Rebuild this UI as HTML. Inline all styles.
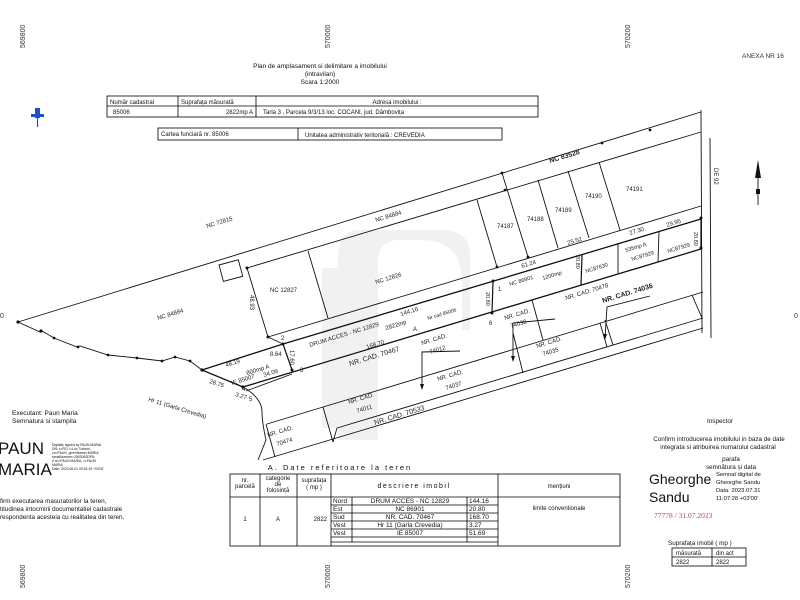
<!DOCTYPE html>
<html><head><meta charset="utf-8"><style>
html,body{margin:0;padding:0;background:#fff}
svg{display:block;font-family:"Liberation Sans",sans-serif}
</style></head><body>
<svg width="800" height="600" viewBox="0 0 800 600" xmlns="http://www.w3.org/2000/svg">
<rect width="800" height="600" fill="#fff"/>
<!-- watermark -->
<g fill="#f1f1f1">
<rect x="322" y="268" width="38" height="160"/>
<path d="M338 258 L338 440 L378 440 L378 262 Q378 240 400 240 L420 240 Q462 240 462 282 L462 330 L470 330 L470 255 Q470 230 440 230 L360 230 Q338 230 338 258Z"/>
</g>
<!-- grid labels -->
<g font-size="7" fill="#333">
<text transform="translate(25,48) rotate(-90)">569800</text>
<text transform="translate(330,48) rotate(-90)">570000</text>
<text transform="translate(630,48) rotate(-90)">570200</text>
<text transform="translate(25,588) rotate(-90)">569800</text>
<text transform="translate(330,588) rotate(-90)">570000</text>
<text transform="translate(630,588) rotate(-90)">570200</text>
<text x="0" y="318">0</text><text x="794" y="318">0</text>
<text x="742" y="58" font-size="6.5">ANEXA NR 16</text>
</g>
<!-- header -->
<g font-size="6.5" fill="#111" text-anchor="middle">
<text x="320" y="68">Plan de amplasament si delimitare a imobilului</text>
<text x="320" y="76">(intravilan)</text>
<text x="320" y="84">Scara 1:2000</text>
</g>
<g stroke="#000" stroke-width="0.8" fill="none">
<rect x="107" y="96" width="431" height="21"/>
<line x1="107" y1="106" x2="538" y2="106"/>
<line x1="178" y1="96" x2="178" y2="117"/><line x1="256" y1="96" x2="256" y2="117"/>
<rect x="158" y="128" width="344" height="12"/>
<line x1="298" y1="128" x2="298" y2="140"/>
</g>
<g font-size="6" fill="#111">
<text x="110" y="104">Număr cadastral</text><text x="181" y="104">Suprafața măsurată</text>
<text x="397" y="104" text-anchor="middle">Adresa imobilului :</text>
<text x="113" y="114">85006</text><text x="253" y="114" text-anchor="end">2822mp A</text>
<text x="263" y="114">Tarla  3 , Parcela 9/3/13 loc. COCANI, jud. Dâmbovița</text>
<text x="161" y="136">Cartea funciară  nr.  85006</text>
<text x="305" y="137">Unitatea administrativ teritorială :  CREVEDIA</text>
</g>
<!-- pin -->
<g><rect x="35" y="108" width="5" height="10" fill="#1a4fd0"/><rect x="31" y="114" width="13" height="3" fill="#1a4fd0"/><line x1="37.5" y1="117" x2="37.5" y2="127" stroke="#1a4fd0" stroke-width="1.2"/></g>
<!-- plot lines -->
<g stroke="#111" stroke-width="0.9" fill="none">
<line x1="18" y1="322" x2="701" y2="112"/>
<line x1="247" y1="268" x2="701" y2="132"/>
<line x1="268" y1="337" x2="701" y2="206"/>
<line x1="283" y1="344" x2="701" y2="219" stroke-width="1.3"/>
<line x1="243" y1="387" x2="701" y2="249" stroke-width="1.3"/>
<line x1="246" y1="391" x2="292" y2="374"/>
<line x1="202" y1="370" x2="283" y2="344" stroke-width="1.3"/>
<line x1="202" y1="370" x2="243" y2="387" stroke-width="1.3"/>
<line x1="247" y1="268" x2="268" y2="337"/>
<line x1="268" y1="337" x2="283" y2="344"/>
<line x1="283" y1="344" x2="292" y2="370" stroke-width="1.2"/>
<line x1="308" y1="251" x2="328" y2="318"/>
<rect x="0" y="0" width="20" height="17" transform="translate(219,265) rotate(-15)"/>
<polyline points="18,322 40,332 42,331 54,338 77,347 80,346 108,355 137,358 162,361 175,357 190,361 202,370"/>
<path d="M243,387 Q262,398 262,412 Q262,422 266,440 L262,450 L258,460"/>
<line x1="267" y1="424" x2="703" y2="292"/>
<line x1="337" y1="428" x2="703" y2="318"/>
<line x1="263" y1="460" x2="703" y2="328"/>
<line x1="323" y1="407" x2="333" y2="442"/><line x1="333" y1="442" x2="337" y2="428"/>
<line x1="532" y1="300" x2="543" y2="340"/><line x1="513" y1="333" x2="523" y2="373"/>
<line x1="600" y1="323" x2="607" y2="347"/><line x1="605" y1="320" x2="613" y2="345"/>
<line x1="692" y1="295" x2="702" y2="318"/>
<line x1="266" y1="424" x2="275" y2="457"/>
<line x1="701" y1="110" x2="702" y2="333"/>
<line x1="710" y1="138" x2="711" y2="338"/>
<line x1="477" y1="200" x2="497" y2="267"/><line x1="502" y1="173" x2="528" y2="257"/>
<line x1="538" y1="180" x2="558" y2="248"/><line x1="568" y1="171" x2="589" y2="238"/>
<line x1="599" y1="162" x2="620" y2="230"/>
<line x1="493" y1="281" x2="492" y2="313" stroke-width="1.2"/>
<line x1="582" y1="255" x2="581" y2="285" stroke-width="1.2"/>
<line x1="618" y1="243" x2="618" y2="273"/>
<line x1="659" y1="231" x2="658" y2="262"/>
<line x1="701" y1="218" x2="701" y2="248" stroke-width="1.2"/>
<polyline points="460,351 422,352 422,388"/><polyline points="555,319 513,323 513,360"/><polyline points="650,296 607,307 605,338"/>
<line x1="758" y1="162" x2="758" y2="205"/>
</g>
<g fill="#111">
<polygon points="758,160 755,178 761,178"/><rect x="756" y="189" width="4" height="5"/>
<polygon points="422,390 420,384 424,384"/><polygon points="513,362 511,356 515,356"/><polygon points="605,340 603,334 607,334"/>
<circle cx="18" cy="322" r="1.6"/><circle cx="41" cy="331" r="1.6"/><circle cx="54" cy="338" r="1.4"/><circle cx="78" cy="347" r="1.4"/><circle cx="108" cy="355" r="1.4"/><circle cx="137" cy="358" r="1.4"/><circle cx="162" cy="361" r="1.4"/><circle cx="175" cy="357" r="1.4"/><circle cx="190" cy="361" r="1.4"/><circle cx="202" cy="370" r="1.6"/><circle cx="243" cy="387" r="1.6"/><circle cx="247" cy="268" r="1.5"/><circle cx="268" cy="337" r="1.5"/><circle cx="283" cy="344" r="1.5"/><circle cx="292" cy="370" r="1.5"/><circle cx="493" cy="281" r="1.5"/><circle cx="492" cy="313" r="1.5"/><circle cx="701" cy="218" r="1.5"/><circle cx="701" cy="248" r="1.5"/><circle cx="502" cy="173" r="1.4"/><circle cx="602" cy="143" r="1.4"/><circle cx="650" cy="130" r="1.4"/><circle cx="505" cy="190" r="1.4"/><circle cx="528" cy="257" r="1.4"/><circle cx="497" cy="267" r="1.4"/>
</g>
<!-- plot labels -->
<g font-size="6" fill="#222">
<text transform="translate(207,228) rotate(-17)">NC 72815</text>
<text transform="translate(376,222) rotate(-17)">NC 84884</text>
<text transform="translate(158,320) rotate(-17)">NC 84884</text>
<text x="270" y="292">NC 12827</text>
<text transform="translate(376,284) rotate(-17)">NC 12826</text>
<text transform="translate(310,347) rotate(-17)">DRUM ACCES - NC 12829</text>
<text transform="translate(401,316) rotate(-17)">144.16</text>
<text transform="translate(386,330) rotate(-17)">2822mp</text>
<text x="413" y="331">A</text>
<text transform="translate(428,320) rotate(-17)" font-size="5">Nr cad 85006</text>
<text transform="translate(367,349) rotate(-17)">168.70</text>
<text transform="translate(350,366) rotate(-17)" font-size="7">NR.  CAD.  70467</text>
<text transform="translate(422,345) rotate(-17)">NR.  CAD.</text><text transform="translate(430,354) rotate(-17)">74012</text>
<text transform="translate(438,381) rotate(-17)">NR.  CAD.</text><text transform="translate(446,390) rotate(-17)">74037</text>
<text transform="translate(349,404) rotate(-17)">NR.  CAD.</text><text transform="translate(357,413) rotate(-17)">74011</text>
<text transform="translate(375,425) rotate(-17)" font-size="7">NR.  CAD.  70533</text>
<text transform="translate(268,437) rotate(-17)">NR.  CAD.</text><text transform="translate(277,446) rotate(-17)">70474</text>
<text transform="translate(505,320) rotate(-17)">NR.  CAD.</text><text transform="translate(511,328) rotate(-17)">74038</text>
<text transform="translate(537,348) rotate(-17)">NR.  CAD.</text><text transform="translate(543,356) rotate(-17)">74035</text>
<text transform="translate(566,300) rotate(-17)">NR.  CAD.  70478</text>
<text transform="translate(603,303) rotate(-17)" font-weight="bold" font-size="7">NR.  CAD.  74036</text>
<text transform="translate(510,286) rotate(-17)" font-size="5.5">NC 86901</text>
<text transform="translate(543,280) rotate(-17)" font-size="5.5">1200mp</text>
<text transform="translate(522,268) rotate(-17)">61.24</text>
<text x="498" y="291">1</text><text x="489" y="325">6</text>
<text transform="translate(486,292) rotate(90)" font-size="5.5">20.80</text>
<text transform="translate(576,255) rotate(90)" font-size="5.5">20.80</text>
<text transform="translate(568,245) rotate(-17)">25.52</text>
<text transform="translate(586,273) rotate(-17)" font-size="5.5">NC87630</text>
<text transform="translate(630,235) rotate(-17)">27.30</text>
<text transform="translate(626,252) rotate(-17)" font-size="5.5">535mp A</text>
<text transform="translate(632,261) rotate(-17)" font-size="5.5">NC87929</text>
<text transform="translate(667,227) rotate(-17)">29.95</text>
<text transform="translate(668,253) rotate(-17)" font-size="5.5">NC87929</text>
<text transform="translate(694,232) rotate(90)" font-size="5.5">20.80</text>
<text x="497" y="228">74187</text><text x="527" y="221">74188</text><text x="555" y="212">74189</text><text x="585" y="198">74190</text><text x="626" y="191">74191</text>
<text transform="translate(550,163) rotate(-17)" font-weight="bold" font-size="7">NC 83528</text>
<text transform="translate(714,168) rotate(90)">DE 92</text>
<text x="281" y="340">2</text><text x="300" y="372">3</text>
<text x="270" y="356">8.64</text>
<text transform="translate(290,350) rotate(90)">17.60</text>
<text transform="translate(250,295) rotate(90)">48.93</text>
<text transform="translate(226,367) rotate(-17)">48.19</text>
<text transform="translate(247,375) rotate(-17)">800mp A</text>
<text transform="translate(232,385) rotate(-17)">IE 85007</text>
<text transform="translate(264,377) rotate(-17)">34.09</text>
<text transform="translate(209,383) rotate(17)">28.75</text>
<text x="242" y="391">4</text>
<text transform="translate(235,396) rotate(17)">3.27</text>
<text x="249" y="401">5</text>
<text transform="translate(148,401) rotate(17)">Hr 11 (Garla Crevedia)</text>
</g>
<!-- left bottom -->
<g fill="#111">
<text x="12" y="415" font-size="6.5">Executant: Paun Maria</text>
<text x="12" y="423" font-size="6.5">Semnatura si stampila</text>
<text x="-2" y="454" font-size="17">PAUN</text>
<text x="-2" y="475" font-size="17">MARIA</text>
<g font-size="3.4"><text x="52" y="446">Digitally signed by PAUN MARIA</text><text x="52" y="450">DN: c=RO, l=Loc Turbuni,</text><text x="52" y="454">cn=PAUN, givenName=MARIA,</text><text x="52" y="458">serialNumber=2803062DPN</text><text x="52" y="462">4 cn=PAUN MARIA, c=PAUN</text><text x="52" y="466">MARIA</text><text x="52" y="470">Date: 2023.06.01 09:16:15 +03'00'</text></g>
<text x="0" y="503" font-size="6.3">firm executarea masuratorilor la teren,</text>
<text x="0" y="511" font-size="6.3">titudinea intocmirii documentatiei cadastrale</text>
<text x="0" y="519" font-size="6.3">respondenta acesteia cu realitatea din teren.</text>
</g>
<!-- table A -->
<text x="340" y="470" font-size="7.5" text-anchor="middle" letter-spacing="2" fill="#111">A.  Date  referitoare  la  teren</text>
<g stroke="#000" stroke-width="0.8" fill="none">
<rect x="230" y="474" width="390" height="72"/>
<line x1="230" y1="497" x2="620" y2="497"/>
<line x1="260" y1="474" x2="260" y2="546"/><line x1="297" y1="474" x2="297" y2="546"/><line x1="331" y1="474" x2="331" y2="546"/><line x1="498" y1="474" x2="498" y2="546"/>
<line x1="352" y1="497" x2="352" y2="542"/><line x1="467" y1="497" x2="467" y2="542"/>
<line x1="331" y1="505" x2="498" y2="505"/><line x1="331" y1="513" x2="498" y2="513"/><line x1="331" y1="521" x2="498" y2="521"/><line x1="331" y1="529" x2="498" y2="529"/><line x1="331" y1="537" x2="498" y2="537"/>
<line x1="331" y1="542" x2="498" y2="542"/>
</g>
<g font-size="6" fill="#111" text-anchor="middle">
<text x="245" y="482">nr.</text><text x="245" y="488">parcelă</text>
<text x="278" y="480">categorie</text><text x="278" y="486">de</text><text x="278" y="492">folosință</text>
<text x="314" y="482">suprafața</text><text x="314" y="489">( mp )</text>
<text x="414" y="488" letter-spacing="1.5" font-size="7">descriere imobil</text>
<text x="559" y="488">mențiuni</text>
<text x="245" y="521">1</text><text x="278" y="521">A</text><text x="327" y="521" text-anchor="end">2822</text>
<text x="559" y="510">limite conventionale</text>
</g>
<g font-size="6.5" fill="#111">
<text x="333" y="503">Nord</text><text x="333" y="511">Est</text><text x="333" y="519">Sud</text><text x="333" y="527">Vest</text><text x="333" y="535">Vest</text>
<g text-anchor="middle"><text x="410" y="503">DRUM ACCES - NC 12829</text><text x="410" y="511">NC 86901</text><text x="410" y="519">NR. CAD. 70467</text><text x="410" y="527">Hr 11 (Garla Crevedia)</text><text x="410" y="535">IE 85007</text></g>
<text x="469" y="503">144.16</text><text x="469" y="511">20.80</text><text x="469" y="519">168.70</text><text x="469" y="527">3.27</text><text x="469" y="535">51.69</text>
</g>
<!-- right bottom -->
<g fill="#111" font-size="6.3" text-anchor="middle">
<text x="720" y="423">Inspector</text>
<text x="719" y="441">Confirm introducerea imobilului in baza de date</text>
<text x="718" y="449">integrata si atribuirea numarului cadastral</text>
<text x="731" y="461">parafa</text>
<text x="731" y="469">semnătura și data</text>
</g>
<g fill="#111">
<text x="649" y="484" font-size="14">Gheorghe</text>
<text x="649" y="502" font-size="14">Sandu</text>
<g font-size="5.8"><text x="716" y="476">Semnat digital de</text><text x="716" y="484">Gheorghe Sandu</text><text x="716" y="492">Data: 2023.07.31</text><text x="716" y="500">11:07:28 +03'00'</text></g>
<text x="654" y="518" font-size="7.5" fill="#b24a5e" font-family="Liberation Serif,serif">77778 / 31.07.2023</text>
<text x="668" y="545" font-size="6.3">Suprafața  imobil  ( mp )</text>
</g>
<g stroke="#000" stroke-width="0.8" fill="none"><rect x="672" y="548" width="74" height="18"/><line x1="672" y1="557" x2="746" y2="557"/><line x1="712" y1="548" x2="712" y2="566"/></g>
<g font-size="6" fill="#111"><text x="676" y="555">măsurată</text><text x="716" y="555">din act</text><text x="676" y="564">2822</text><text x="716" y="564">2822</text></g>
</svg>
</body></html>
